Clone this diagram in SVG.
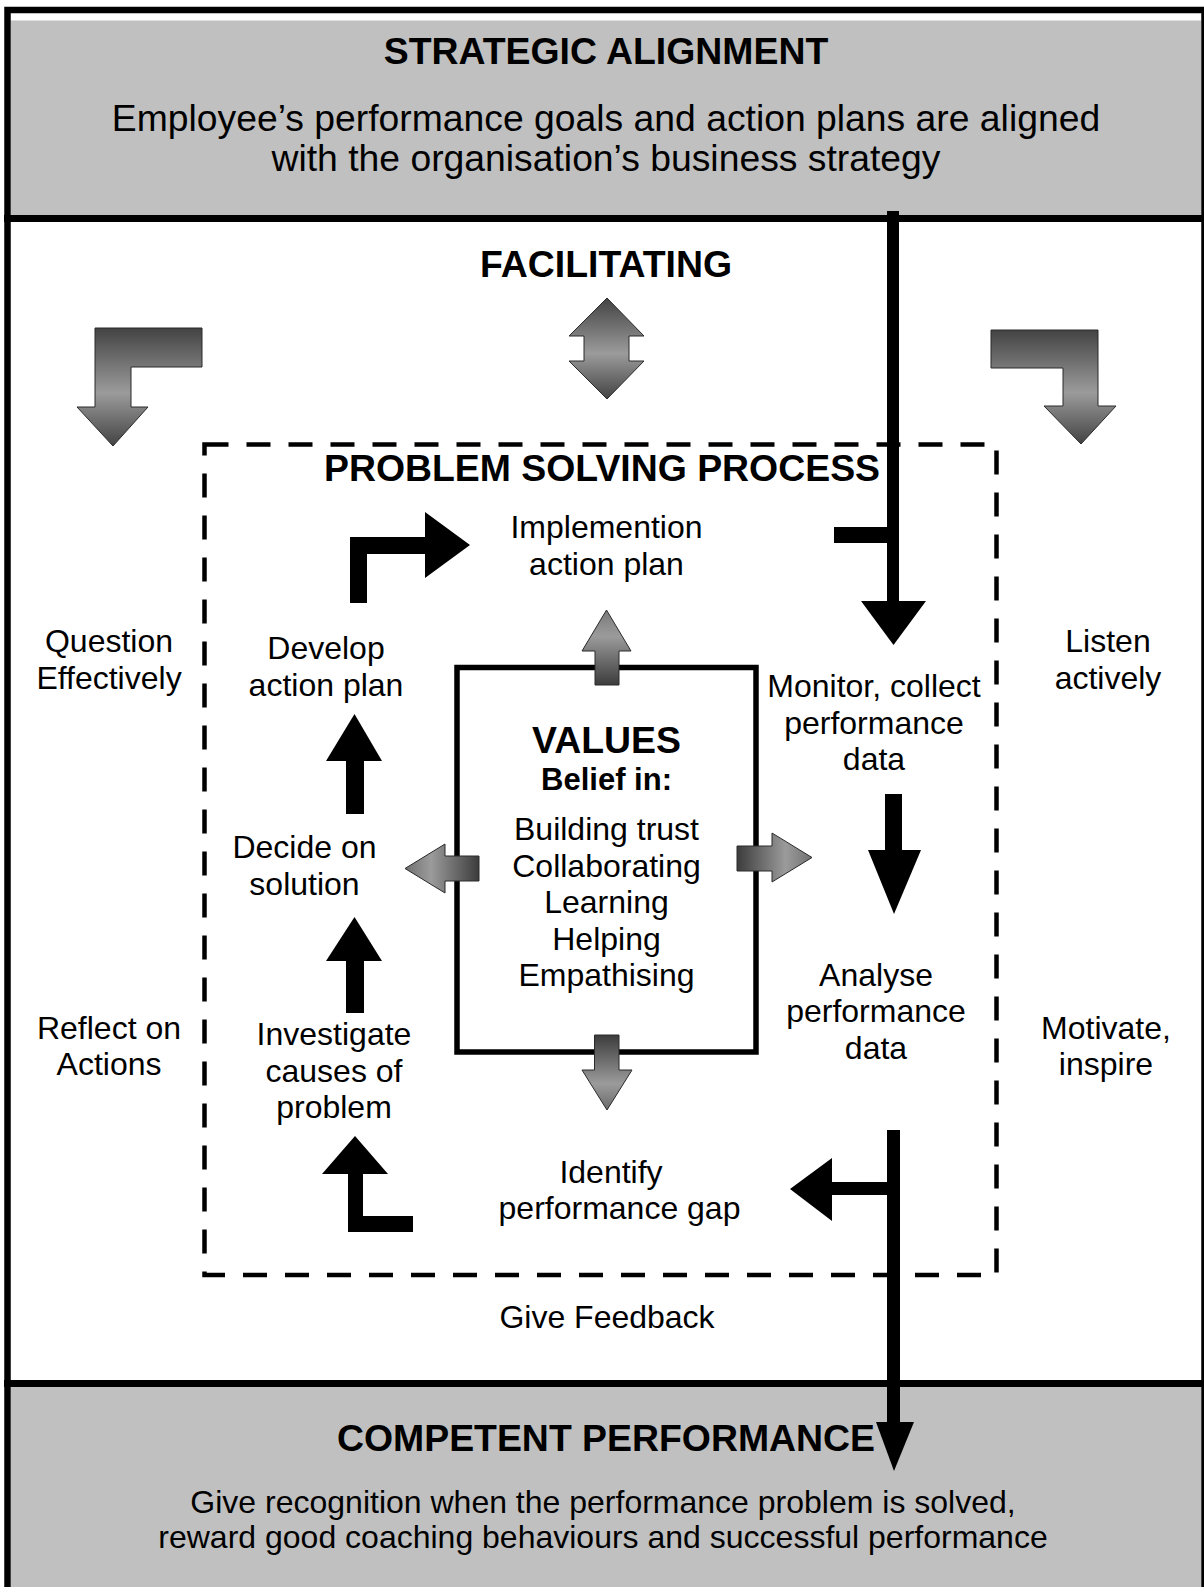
<svg xmlns="http://www.w3.org/2000/svg" width="1204" height="1587" viewBox="0 0 1204 1587">
<defs>
<linearGradient id="gv" x1="0" y1="0" x2="0" y2="1">
<stop offset="0" stop-color="#434343"/><stop offset="0.55" stop-color="#9b9b9b"/><stop offset="1" stop-color="#434343"/>
</linearGradient>
<linearGradient id="gup" x1="0" y1="0" x2="0" y2="1">
<stop offset="0" stop-color="#7a7a7a"/><stop offset="0.35" stop-color="#9b9b9b"/><stop offset="1" stop-color="#3c3c3c"/>
</linearGradient>
<linearGradient id="gdown" x1="0" y1="0" x2="0" y2="1">
<stop offset="0" stop-color="#3c3c3c"/><stop offset="0.65" stop-color="#9b9b9b"/><stop offset="1" stop-color="#6a6a6a"/>
</linearGradient>
<linearGradient id="gleft" x1="0" y1="0" x2="1" y2="0">
<stop offset="0" stop-color="#707070"/><stop offset="0.35" stop-color="#9b9b9b"/><stop offset="1" stop-color="#3c3c3c"/>
</linearGradient>
<linearGradient id="gright" x1="0" y1="0" x2="1" y2="0">
<stop offset="0" stop-color="#3c3c3c"/><stop offset="0.65" stop-color="#9b9b9b"/><stop offset="1" stop-color="#707070"/>
</linearGradient>
<style>
text { font-family: "Liberation Sans", Arial, sans-serif; fill: #000; text-anchor: middle; }
.h { font-weight: bold; font-size: 37.4px; }
.t { font-size: 37.3px; }
.b { font-size: 32px; }
.bb { font-weight: bold; font-size: 31px; }
.ga { stroke: #2a2a2a; stroke-width: 1; }
.blk { fill: #000; stroke: none; }
.band { fill: #c0c0c0; }
.rule { stroke: #000; stroke-width: 7; }
</style>
</defs>
<rect x="0" y="0" width="1204" height="1587" fill="#fff"/>
<g id="strategic-alignment">
<rect class="band" x="11" y="20.5" width="1190" height="195"/>
<text class="h" x="606" y="64">STRATEGIC ALIGNMENT</text>
<text class="t" x="606" y="130.5">Employee’s performance goals and action plans are aligned</text>
<text class="t" x="606" y="171">with the organisation’s business strategy</text>
</g>
<g id="competent-performance">
<rect class="band" x="11" y="1387" width="1190" height="200"/>
<text class="h" x="606" y="1451">COMPETENT PERFORMANCE</text>
<text class="b" x="603" y="1513">Give recognition when the performance problem is solved,</text>
<text class="b" x="603" y="1548">reward good coaching behaviours and successful performance</text>
</g>
<rect x="7.5" y="10" width="1197" height="1600" fill="none" stroke="#000" stroke-width="6.5"/>
<line class="rule" x1="4" y1="218.5" x2="1204" y2="218.5"/>
<line class="rule" x1="4" y1="1383.5" x2="1204" y2="1383.5"/>

<g id="facilitating">
<text class="h" x="606" y="277">FACILITATING</text>
</g>
<g id="problem-solving-process">
<rect x="204.5" y="444.5" width="792" height="830.5" fill="none" stroke="#000" stroke-width="4.5" stroke-dasharray="24 18"/>
<text class="h" x="602" y="481">PROBLEM SOLVING PROCESS</text>
</g>
<g id="values">
<rect x="457" y="667.5" width="299" height="384.5" fill="#fff" stroke="#000" stroke-width="5.5"/>
<text class="h" x="606.5" y="753">VALUES</text>
<text class="bb" x="606.5" y="790">Belief in:</text>
<text class="b" x="606.5" y="840">Building trust</text>
<text class="b" x="606.5" y="876.5">Collaborating</text>
<text class="b" x="606.5" y="913">Learning</text>
<text class="b" x="606.5" y="949.5">Helping</text>
<text class="b" x="606.5" y="986">Empathising</text>
</g>
<g id="implementation">
<text class="b" x="606.5" y="538">Implemention</text>
<text class="b" x="606.5" y="575">action plan</text>
</g>
<g id="develop">
<text class="b" x="326" y="659">Develop</text>
<text class="b" x="326" y="695.5">action plan</text>
</g>
<g id="decide">
<text class="b" x="304.5" y="858">Decide on</text>
<text class="b" x="304.5" y="894.5">solution</text>
</g>
<g id="investigate">
<text class="b" x="334" y="1045">Investigate</text>
<text class="b" x="334" y="1081.5">causes of</text>
<text class="b" x="334" y="1118">problem</text>
</g>
<g id="identify">
<text class="b" x="611" y="1183">Identify</text>
<text class="b" x="619.5" y="1219">performance gap</text>
</g>
<g id="monitor">
<text class="b" x="874" y="697">Monitor, collect</text>
<text class="b" x="874" y="733.5">performance</text>
<text class="b" x="874" y="770">data</text>
</g>
<g id="analyse">
<text class="b" x="876" y="985.5">Analyse</text>
<text class="b" x="876" y="1022">performance</text>
<text class="b" x="876" y="1058.5">data</text>
</g>
<g id="question">
<text class="b" x="109" y="652">Question</text>
<text class="b" x="109" y="688.5">Effectively</text>
</g>
<g id="listen">
<text class="b" x="1108" y="652">Listen</text>
<text class="b" x="1108" y="688.5">actively</text>
</g>
<g id="reflect">
<text class="b" x="109" y="1038.5">Reflect on</text>
<text class="b" x="109" y="1075">Actions</text>
</g>
<g id="motivate">
<text class="b" x="1106" y="1038.5">Motivate,</text>
<text class="b" x="1106" y="1075">inspire</text>
</g>
<g id="feedback">
<text class="b" x="607" y="1328">Give Feedback</text>
</g>

<g id="connectors">
<polygon class="ga" fill="url(#gv)" points="95,328 202,328 202,367 131,367 131,407 148,407 113,446 77,407 95,407"/>
<polygon class="ga" fill="url(#gv)" points="607,298 644,336 629,336 629,361 644,361 607,399 569,361 584,361 584,336 569,336"/>
<polygon class="ga" fill="url(#gv)" points="991,330 1098,330 1098,406 1116,406 1081,444 1044,406 1063,406 1063,368 991,368"/>
<polygon class="ga" fill="url(#gup)" points="606.5,610 631,651 619,651 619,685 595,685 595,651 582,651"/>
<polygon class="ga" fill="url(#gdown)" points="594.5,1035 619,1035 619,1070 632,1070 607,1110 582,1070 594.5,1070"/>
<polygon class="ga" fill="url(#gleft)" points="405,868.5 445,844 445,856 479,856 479,881 445,881 445,893"/>
<polygon class="ga" fill="url(#gright)" points="737,846 772,846 772,833 812,857.5 772,882 772,871 737,871"/>

<rect class="blk" x="887" y="211" width="12" height="392"/>
<rect class="blk" x="834" y="527" width="65" height="16"/>
<polygon class="blk" points="861,601 926,601 893.5,645"/>

<rect class="blk" x="885" y="794" width="17" height="58"/>
<polygon class="blk" points="868,850 921,850 894,914"/>

<rect class="blk" x="887" y="1130" width="13" height="295"/>
<rect class="blk" x="831" y="1182" width="58" height="13"/>
<polygon class="blk" points="832,1158 832,1221 790,1189"/>
<polygon class="blk" points="876,1422 914,1422 894,1471"/>

<polygon class="blk" points="350,603 350,537 425,537 425,512 470,545 425,578 425,554 367,554 367,603"/>
<rect class="blk" x="346" y="759" width="18" height="55"/>
<polygon class="blk" points="326,761 382,761 354.5,714"/>
<rect class="blk" x="346" y="959" width="18" height="54"/>
<polygon class="blk" points="326,961 382,961 354.5,917"/>
<polygon class="blk" points="348,1232 348,1174 322,1174 355,1136 388,1174 363,1174 363,1216 413,1216 413,1232"/>
</g>
</svg>
